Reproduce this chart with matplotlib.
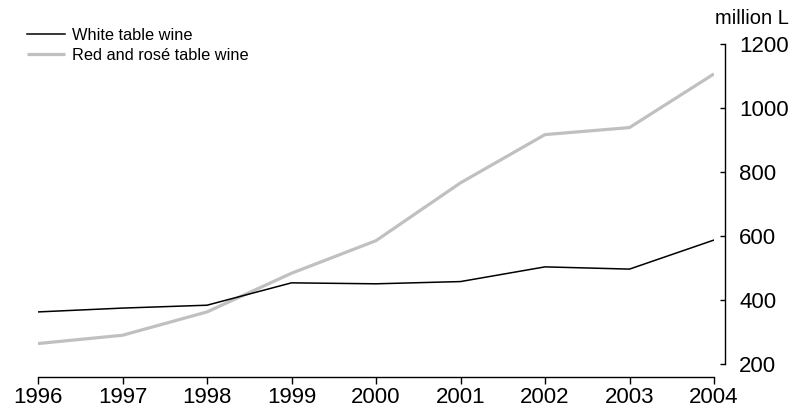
import matplotlib
matplotlib.use("Agg")
import matplotlib.pyplot as plt

plt.rcParams['font.family'] = ['Liberation Sans', 'DejaVu Sans']

years = [1996, 1997, 1998, 1999, 2000, 2001, 2002, 2003, 2004]
white_wine = [363, 375, 384, 454, 451, 458, 504, 497, 588]
red_rose_wine = [264, 290, 363, 484, 586, 767, 918, 940, 1108]
y_ticks = [200, 400, 600, 800, 1000, 1200]

W, H = 794, 407
PX = 72 / 100  # points per pixel at 100 dpi

fig = plt.figure(figsize=(W / 100, H / 100), dpi=100)
ax = fig.add_axes([38 / W, 1 - 364 / H, (714 - 38) / W, (364 - 44.5) / H])

ax.plot(years, white_wine, color='black', lw=1.1, label='White table wine', zorder=3)
ax.plot(years, red_rose_wine, color='#c0c0c0', lw=2.3, label='Red and rosé table wine',
        solid_capstyle='butt', zorder=2)

ax.set_xlim(1996, 2004)
ax.set_ylim(200, 1200)
ax.set_xticks(years)
ax.set_yticks(y_ticks)

ax.yaxis.tick_right()
for side in ('left', 'top'):
    ax.spines[side].set_visible(False)
ax.spines['right'].set_position(('outward', 11 * PX))
ax.spines['bottom'].set_position(('outward', 13 * PX))
ax.spines['right'].set_bounds(200, 1200)
ax.spines['bottom'].set_bounds(1996, 2004)
for side in ('right', 'bottom'):
    ax.spines[side].set_linewidth(1.0)

ax.tick_params(axis='x', direction='out', length=7 * PX, width=1.0, pad=2.5, labelsize=16)
ax.tick_params(axis='y', direction='in', length=5 * PX, width=1.0, pad=14 * PX, labelsize=16)

fig.text(789 / W, 1 - 19 / H, 'million L', ha='right', va='center', fontsize=14.5)

fig.legend(loc='upper left', bbox_to_anchor=(27 / W, 1 - 28 / H), frameon=False,
           fontsize=11.8, handlelength=2.3, handletextpad=0.45, labelspacing=0.3,
           borderpad=0, borderaxespad=0)

fig.savefig('out.png', dpi=100)
